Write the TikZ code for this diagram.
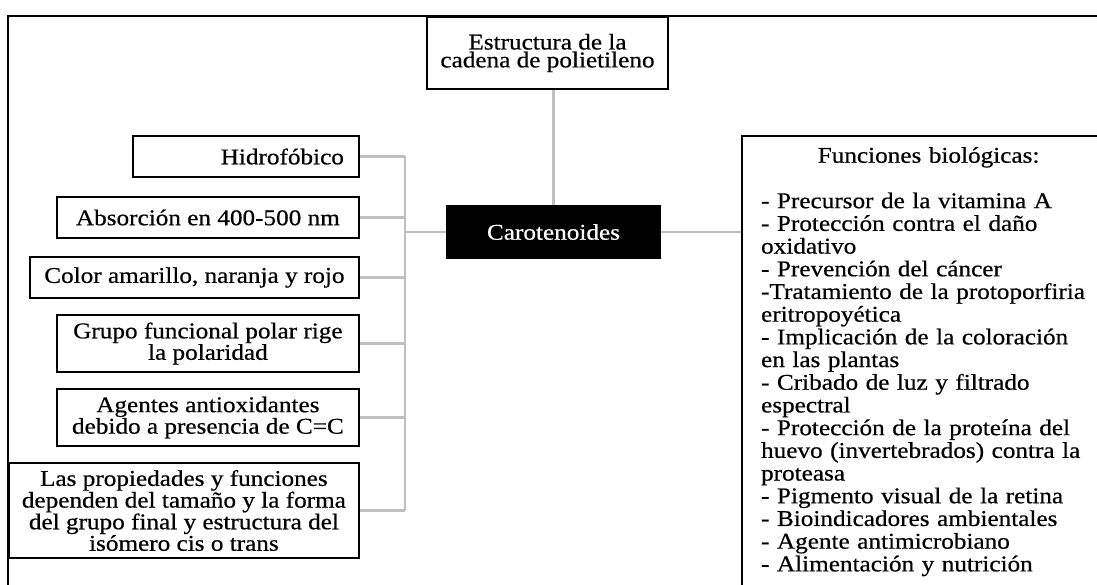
\documentclass[tikz,border=0pt]{standalone}
\usepackage{fontspec}
\setmainfont{Liberation Serif}[FakeStretch=1.12, FakeBold=0.6]
\definecolor{linkgray}{RGB}{192,192,192}
\usetikzlibrary{calc}

\begin{document}
\begin{tikzpicture}[
  x=1pt, y=-1pt,
  propbox/.style={draw, line width=2.2pt, inner sep=0pt, align=center, font=\fontsize{22.5}{17.9}\selectfont},
  link/.style={draw=linkgray, line width=2.2pt},
]
\useasboundingbox (0,0) rectangle (1097,585);
\clip (0,0) rectangle (1097,585);

% Outer frame
\draw[line width=1.3pt] (8,600) -- (8,16) -- (1110,16);

% Top and centre
\node[propbox, minimum width=241, minimum height=72] (chain) at (547.5,53) {Estructura de la\\cadena de polietileno};
\node[propbox, fill=black, text=white, minimum width=213, minimum height=52] (caro) at (553.5,232) {Carotenoides};

% Properties on the left
\node[propbox, anchor=east, minimum width=226, minimum height=41, text width=196, align=right] (hidro) at (360,156.5) {Hidrofóbico};
\node[propbox, anchor=east, minimum width=302, minimum height=41] (absor) at (360,217.5) {Absorción en 400-500 nm};
\node[propbox, anchor=east, minimum width=329, minimum height=41] (color) at (360,277.5) {Color amarillo, naranja y rojo};
\node[propbox, anchor=east, minimum width=302, minimum height=57] (grupo) at (360,343.5) {Grupo funcional polar rige\\la polaridad};
\node[propbox, anchor=east, minimum width=302, minimum height=57] (antiox) at (360,417.5) {Agentes antioxidantes\\debido a presencia de C=C};
\node[propbox, anchor=east, minimum width=350, minimum height=95] (props) at (360,510.5) {Las propiedades y funciones\\dependen del tamaño y la forma\\del grupo final y estructura del\\isómero cis o trans};

% Biological functions
\node[draw, line width=2.2pt, anchor=north west, text width=335, align=left, inner xsep=19, inner ysep=11, font=\fontsize{22.5}{22.7}\selectfont] (funcs) at (741,135)
{\makebox[335pt][c]{Funciones biológicas:}\\[22.7pt]
- Precursor de la vitamina A\\
- Protección contra el daño\\
oxidativo\\
- Prevención del cáncer\\
-Tratamiento de la protoporfiria\\
eritropoyética\\
- Implicación de la coloración\\
en las plantas\\
- Cribado de luz y filtrado\\
espectral\\
- Protección de la proteína del\\
huevo (invertebrados) contra la\\
proteasa\\
- Pigmento visual de la retina\\
- Bioindicadores ambientales\\
- Agente antimicrobiano\\
- Alimentación y nutrición\\[30pt]
\mbox{}};

% Connectors
\coordinate (bus) at (405,232);
\foreach \p in {hidro, absor, color, grupo, antiox, props}
  \draw[link] (\p.east) -- (\p.east -| bus);
\draw[link] (hidro.east -| bus) -- (props.east -| bus);
\draw[link] (bus) -- (caro.west);
\draw[link] (caro.north |- chain.south) -- (caro.north);
\draw[link] (caro.east) -- (caro.east -| funcs.west);
\end{tikzpicture}
\end{document}
